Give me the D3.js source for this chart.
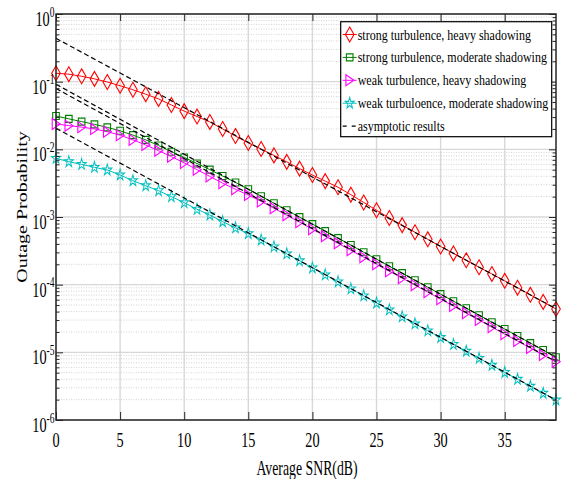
<!DOCTYPE html>
<html>
<head>
<meta charset="utf-8">
<script src="https://cdn.jsdelivr.net/npm/d3@7"></script>
<style>
  html, body { margin: 0; padding: 0; background: #ffffff; }
  svg { display: block; }
  text { font-family: "Liberation Serif", "Times New Roman", serif; fill: #000; }
</style>
</head>
<body>
<svg id="chart" width="562" height="479"></svg>
<script>
// Average SNR in dB (one marker per dB)
const snrDb = [0,1,2,3,4,5,6,7,8,9,10,11,12,13,14,15,16,17,18,19,20,21,22,23,24,25,26,27,28,29,30,31,32,33,34,35,36,37,38,39];

// Outage probability, exact results
const strongHeavy = [1.33e-1,1.29e-1,1.20e-1,1.10e-1,9.89e-2,8.71e-2,7.59e-2,6.53e-2,5.56e-2,4.52e-2,
  3.67e-2,3.05e-2,2.54e-2,2.00e-2,1.57e-2,1.24e-2,1.01e-2,8.13e-3,6.53e-3,5.19e-3,
  4.17e-3,3.39e-3,2.75e-3,2.14e-3,1.64e-3,1.26e-3,9.66e-4,7.59e-4,5.96e-4,4.68e-4,
  3.67e-4,2.90e-4,2.29e-4,1.81e-4,1.44e-4,1.14e-4,9.02e-5,7.08e-5,5.56e-5,4.37e-5];
const strongModerate = [3.11e-2,2.82e-2,2.57e-2,2.34e-2,2.11e-2,1.88e-2,1.62e-2,1.38e-2,1.14e-2,9.23e-3,
  7.59e-3,6.17e-3,5.01e-3,4.03e-3,3.24e-3,2.57e-3,2.03e-3,1.60e-3,1.26e-3,9.95e-4,
  7.85e-4,6.19e-4,4.88e-4,3.85e-4,3.02e-4,2.38e-4,1.87e-4,1.48e-4,1.16e-4,9.16e-5,
  7.24e-5,5.70e-5,4.49e-5,3.54e-5,2.79e-5,2.21e-5,1.74e-5,1.37e-5,1.08e-5,8.47e-6];
const weakHeavy = [2.37e-2,2.24e-2,2.13e-2,2.00e-2,1.82e-2,1.62e-2,1.38e-2,1.16e-2,9.55e-3,7.80e-3,
  6.31e-3,5.01e-3,3.98e-3,3.16e-3,2.57e-3,2.11e-3,1.70e-3,1.35e-3,1.06e-3,8.41e-4,
  6.61e-4,5.19e-4,4.09e-4,3.22e-4,2.54e-4,2.00e-4,1.58e-4,1.25e-4,9.86e-5,7.76e-5,
  6.12e-5,4.83e-5,3.80e-5,3.00e-5,2.36e-5,1.86e-5,1.47e-5,1.16e-5,9.12e-6,7.28e-6];
const weakModerate = [7.36e-3,6.56e-3,6.00e-3,5.42e-3,4.95e-3,4.18e-3,3.44e-3,2.90e-3,2.45e-3,2.00e-3,
  1.63e-3,1.30e-3,1.07e-3,8.53e-4,6.92e-4,5.69e-4,4.57e-4,3.63e-4,2.86e-4,2.26e-4,
  1.77e-4,1.40e-4,1.10e-4,8.69e-5,6.85e-5,5.37e-5,4.25e-5,3.35e-5,2.64e-5,2.08e-5,
  1.66e-5,1.31e-5,1.04e-5,8.17e-6,6.44e-6,5.05e-6,4.00e-6,3.16e-6,2.49e-6,1.98e-6];

// High-SNR asymptotes (straight lines on the log scale), end points
const asymSnr = [0, 39];
const asymStrongHeavy = [4.37e-1, 4.40e-5];
const asymStrongModerate = [9.14e-2, 8.50e-6];
const asymWeakHeavy = [7.93e-2, 7.30e-6];
const asymWeakModerate = [2.05e-2, 1.97e-6];

// Axis ticks and text
const xTicks = [0, 5, 10, 15, 20, 25, 30, 35];
const yExponents = [0, -1, -2, -3, -4, -5, -6];
const xLabel = "Average SNR(dB)";
const yLabel = "Outage Probability";
const legendLabels = [
  "strong turbulence, heavy shadowing",
  "strong turbulence, moderate shadowing",
  "weak turbulence, heavy shadowing",
  "weak turbuloence, moderate shadowing",
  "asymptotic results"
];

const svg = d3.select("#chart");
const plot = { left: 56, right: 556, top: 14, bottom: 420 };

const x = d3.scaleLinear().domain([0, 39]).range([plot.left, plot.right]);
const y = d3.scaleLog().domain([1e-6, 1]).range([plot.bottom, plot.top]);

const majorY = yExponents.map(e => Math.pow(10, e));
const minorY = y.ticks().filter(v => !majorY.some(m => Math.abs(Math.log10(v) - Math.log10(m)) < 1e-9));

// Grid
const grid = svg.append("g");
grid.selectAll(".minor").data(minorY).join("line")
  .attr("x1", plot.left).attr("x2", plot.right)
  .attr("y1", d => y(d)).attr("y2", d => y(d))
  .attr("stroke", "#c8c8c8").attr("stroke-width", 0.8).attr("stroke-dasharray", "1,1.5");
grid.selectAll(".majY").data(majorY).join("line")
  .attr("x1", plot.left).attr("x2", plot.right)
  .attr("y1", d => y(d)).attr("y2", d => y(d))
  .attr("stroke", "#d8d8d8").attr("stroke-width", 1.4);
grid.selectAll(".majX").data(xTicks).join("line")
  .attr("x1", d => x(d)).attr("x2", d => x(d))
  .attr("y1", plot.top).attr("y2", plot.bottom)
  .attr("stroke", "#d8d8d8").attr("stroke-width", 1.4);

// Series definitions
const series = [
  { values: strongHeavy, asym: asymStrongHeavy, color: "#ff0000", marker: "diamond" },
  { values: strongModerate, asym: asymStrongModerate, color: "#008000", marker: "square" },
  { values: weakHeavy, asym: asymWeakHeavy, color: "#ff00ff", marker: "triangle" },
  { values: weakModerate, asym: asymWeakModerate, color: "#00bfbf", marker: "star" }
];

const markerPath = {
  diamond: d3.symbol(d3.symbolDiamond, 64)(),
  square: "M-3.3,-3.5H3.3V3.5H-3.3Z",
  triangle: "M-3.8,-5.5L4.2,0L-3.8,5.5Z",
  star: d3.symbol(d3.symbolStar, 40)()
};
const markerTransform = {
  diamond: "", square: "", triangle: "", star: " scale(0.8,1)"
};

const line = d3.line().x(d => x(d[0])).y(d => y(d[1]));

series.forEach(s => {
  const pts = snrDb.map((v, i) => [v, s.values[i]]);
  const g = svg.append("g");
  g.append("path").attr("d", line(pts))
    .attr("fill", "none").attr("stroke", s.color).attr("stroke-width", 1);
  g.selectAll("path.m").data(pts).join("path").attr("class", "m")
    .attr("d", markerPath[s.marker])
    .attr("transform", d => `translate(${x(d[0])},${y(d[1])})${markerTransform[s.marker]}`)
    .attr("fill", "none").attr("stroke", s.color).attr("stroke-width", 1.1);
});

// Asymptotes on top
series.forEach(s => {
  const pts = asymSnr.map((v, i) => [v, s.asym[i]]);
  svg.append("path").attr("d", line(pts))
    .attr("fill", "none").attr("stroke", "#000").attr("stroke-width", 1.2)
    .attr("stroke-dasharray", "5,3");
});

// Axes (ticks pointing inward, box on)
const axisColor = "#262626";
function styleAxis(g) {
  g.select(".domain").remove();
  g.selectAll(".tick line").attr("stroke", axisColor).attr("stroke-width", 1);
  g.selectAll(".tick text").remove();
}
svg.append("g").attr("transform", `translate(0,${plot.bottom})`)
  .call(d3.axisBottom(x).tickValues(xTicks).tickSizeInner(-8).tickSizeOuter(0)).call(styleAxis);
svg.append("g").attr("transform", `translate(0,${plot.top})`)
  .call(d3.axisTop(x).tickValues(xTicks).tickSizeInner(-7).tickSizeOuter(0)).call(styleAxis);
svg.append("g").attr("transform", `translate(${plot.left},0)`)
  .call(d3.axisLeft(y).tickValues(majorY).tickSizeInner(-7).tickSizeOuter(0)).call(styleAxis);
svg.append("g").attr("transform", `translate(${plot.left},0)`)
  .call(d3.axisLeft(y).tickValues(minorY).tickSizeInner(-3.5).tickSizeOuter(0)).call(styleAxis);
svg.append("g").attr("transform", `translate(${plot.right},0)`)
  .call(d3.axisRight(y).tickValues(majorY).tickSizeInner(-7).tickSizeOuter(0)).call(styleAxis);
svg.append("g").attr("transform", `translate(${plot.right},0)`)
  .call(d3.axisRight(y).tickValues(minorY).tickSizeInner(-3.5).tickSizeOuter(0)).call(styleAxis);

svg.append("rect")
  .attr("x", plot.left).attr("y", plot.top)
  .attr("width", plot.right - plot.left).attr("height", plot.bottom - plot.top)
  .attr("fill", "none").attr("stroke", axisColor).attr("stroke-width", 1.5);

// Tick labels
svg.selectAll(".xt").data(xTicks).join("text")
  .attr("transform", d => `translate(${x(d)},446.5) scale(0.68,1)`)
  .attr("text-anchor", "middle").attr("font-size", 21)
  .text(d => d);

const yt = svg.selectAll(".yt").data(yExponents).join("text")
  .attr("transform", d => `translate(54.5,${y(Math.pow(10, d)) + 12}) scale(0.68,1)`)
  .attr("text-anchor", "end").attr("font-size", 21);
yt.append("tspan").text("10");
yt.append("tspan").attr("font-size", 14).attr("dy", -9.5).text(d => d === 0 ? "0" : "-" + Math.abs(d));

// Axis titles
svg.append("text")
  .attr("transform", `translate(307,474.5) scale(0.69,1)`)
  .attr("text-anchor", "middle").attr("font-size", 20)
  .text(xLabel);
svg.append("text")
  .attr("transform", `translate(26.5,207) rotate(-90) scale(1,0.69)`)
  .attr("text-anchor", "middle").attr("font-size", 20)
  .text(yLabel);

// Legend
const legend = svg.append("g");
legend.append("rect")
  .attr("x", 340.7).attr("y", 21.7).attr("width", 211).attr("height", 115)
  .attr("fill", "#fff").attr("stroke", "#000").attr("stroke-width", 1.2);
const rowY = i => 34.5 + i * 22.9;
series.forEach((s, i) => {
  legend.append("line")
    .attr("x1", 342.7).attr("x2", 356.7).attr("y1", rowY(i)).attr("y2", rowY(i))
    .attr("stroke", s.color).attr("stroke-width", 1);
  legend.append("path")
    .attr("d", markerPath[s.marker])
    .attr("transform", `translate(349.7,${rowY(i)})${markerTransform[s.marker]}`)
    .attr("fill", "none").attr("stroke", s.color).attr("stroke-width", 1.1);
});
legend.append("line")
  .attr("x1", 342.7).attr("x2", 356.7).attr("y1", rowY(4)).attr("y2", rowY(4))
  .attr("stroke", "#000").attr("stroke-width", 1.2).attr("stroke-dasharray", "4,5");
legend.selectAll(".lt").data(legendLabels).join("text")
  .attr("transform", (d, i) => `translate(357.7,${rowY(i) + 5}) scale(0.8,1)`)
  .attr("font-size", 15)
  .text(d => d);
</script>
</body>
</html>
